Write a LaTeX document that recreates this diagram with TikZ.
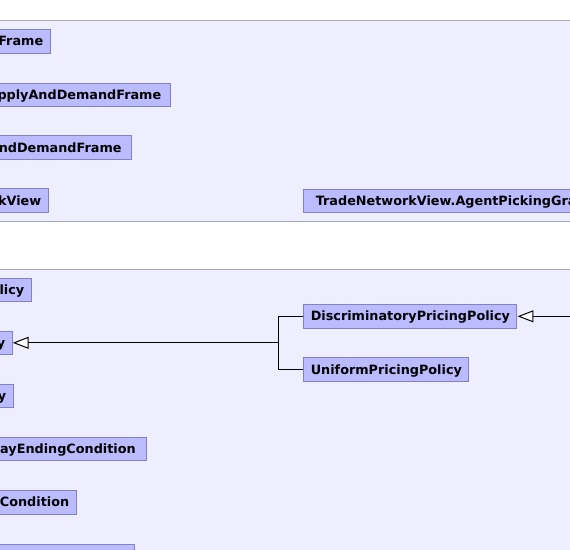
\documentclass[tikz,border=0pt]{standalone}
\usepackage{fontspec}
\setmainfont{DejaVu Sans}
\usetikzlibrary{arrows.meta}
\definecolor{panelbg}{RGB}{238,238,255}
\definecolor{panelline}{RGB}{168,168,188}
\definecolor{boxbg}{RGB}{187,187,255}
\definecolor{boxline}{RGB}{130,130,190}
\tikzset{
  cls/.style={draw=boxline, fill=boxbg, line width=1bp, minimum height=23.5bp,
    text height=9.3bp, text depth=0pt,
    inner xsep=7bp, inner ysep=0pt, font=\fontsize{12.8bp}{14bp}\selectfont\bfseries, text=black},
  inh/.style={draw=black, line width=1bp, -{Triangle[open, length=16bp, width=12bp, fill=white]}},
  tree/.style={draw=black, line width=1bp},
}
\begin{document}
\begin{tikzpicture}[x=1bp, y=-1bp]
\useasboundingbox (0,0) rectangle (570,550);
\clip (0,0) rectangle (570,550);
\fill[white] (0,0) rectangle (570,550);
% panels
\fill[panelbg] (-5,20.5) rectangle (575,221);
\fill[panelbg] (-5,269.5) rectangle (575,560);
\draw[panelline, line width=1bp] (-5,20.5) -- (575,20.5);
\draw[panelline, line width=1bp] (-5,221) -- (575,221);
\draw[panelline, line width=1bp] (-5,269.5) -- (575,269.5);
% panel 1
\node[cls, anchor=east] (f1) at (50.7,41.3) {AuctionConsoleFrame};
\node[cls, anchor=east, inner xsep=9bp] (f2) at (170.7,95) {ReportedSupplyAndDemandFrame};
\node[cls, anchor=east, inner xsep=10bp] (f3) at (132,147.7) {SupplyAndDemandFrame};
\node[cls, anchor=east] (f4) at (48.7,200.7) {TradeNetworkView};
\node[cls, anchor=west, inner xsep=12bp] (f5) at (303.3,200.8) {TradeNetworkView.AgentPickingGraphMousePlugin};
% panel 2
\node[cls, anchor=east] (p1) at (31.7,290) {ContinuousPricingPolicy};
\node[cls, anchor=east] (p2) at (12.7,342.8) {KPricingPolicy};
\node[cls, anchor=east] (p3) at (13.7,395.8) {PricingPolicy};
\node[cls, anchor=east, inner xsep=10.5bp] (e1) at (146.7,448.8) {MaxLengthDayEndingCondition};
\node[cls, anchor=east] (e2) at (76.7,502.3) {ClosingCondition};
\node[cls, anchor=east] (e3) at (134.7,556) {NullAuctionClosingCondition};
\node[cls, anchor=west] (disc) at (303.3,316.3) {DiscriminatoryPricingPolicy};
\node[cls, anchor=west] (uni) at (303.3,369.7) {UniformPricingPolicy};
% connectors
\coordinate (j) at (278.3,342.8);
\coordinate (offR) at (600,316.3);
\draw[inh] (j) -- (p2.east);
\draw[tree] (disc.west) -| (j);
\draw[tree] (uni.west) -| (j);
\draw[inh] (offR) -- (disc.east);
\end{tikzpicture}
\end{document}
